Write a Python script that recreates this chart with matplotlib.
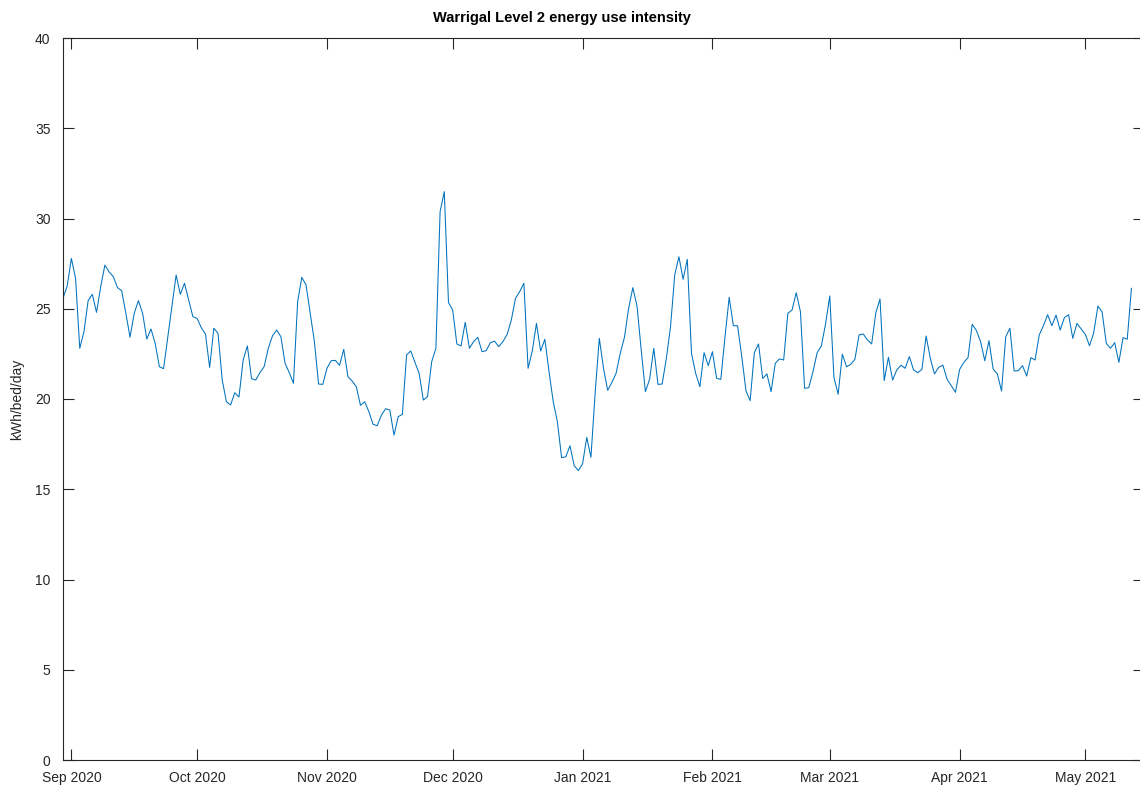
import matplotlib
matplotlib.use("Agg")
import matplotlib.pyplot as plt
import matplotlib.dates as mdates
import numpy as np
import pandas as pd

plt.rcParams['font.family'] = ['Liberation Sans', 'DejaVu Sans']

# Daily energy use intensity (kWh/bed/day), grouped by month
aug_2020 = [25.58, 26.26]
sep_2020 = [27.79, 26.68, 22.81, 23.73, 25.45, 25.80, 24.80, 26.22, 27.42, 27.04,
            26.78, 26.17, 26.00, 24.75, 23.42, 24.75, 25.45, 24.75, 23.32, 23.88,
            23.08, 21.79, 21.68, 23.40, 25.10, 26.87, 25.80, 26.41, 25.48, 24.56]
oct_2020 = [24.47, 23.95, 23.60, 21.75, 23.92, 23.64, 21.05, 19.85, 19.67, 20.35,
            20.11, 22.16, 22.94, 21.13, 21.05, 21.46, 21.79, 22.81, 23.50, 23.82,
            23.45, 21.98, 21.46, 20.87, 25.39, 26.74, 26.32, 24.75, 23.18, 20.83,
            20.81]
nov_2020 = [21.70, 22.12, 22.14, 21.87, 22.75, 21.24, 21.00, 20.68, 19.65, 19.85,
            19.30, 18.60, 18.52, 19.11, 19.46, 19.39, 18.00, 19.02, 19.15, 22.44,
            22.66, 22.03, 21.42, 19.94, 20.13, 22.07, 22.81, 30.38, 31.49, 25.34]
dec_2020 = [24.93, 23.05, 22.94, 24.25, 22.81, 23.18, 23.42, 22.62, 22.68, 23.12,
            23.20, 22.90, 23.18, 23.58, 24.38, 25.58, 25.95, 26.41, 21.70, 22.66,
            24.19, 22.66, 23.31, 21.52, 19.85, 18.74, 16.75, 16.80, 17.41, 16.31,
            16.03]
jan_2021 = [16.40, 17.87, 16.77, 20.31, 23.36, 21.70, 20.48, 20.92, 21.42, 22.53,
            23.42, 25.02, 26.17, 25.15, 22.72, 20.41, 21.09, 22.81, 20.81, 20.83,
            22.25, 24.01, 26.87, 27.88, 26.63, 27.74, 22.53, 21.42, 20.68, 22.57,
            21.85]
feb_2021 = [22.62, 21.14, 21.09, 23.45, 25.63, 24.06, 24.06, 22.35, 20.46, 19.91,
            22.57, 23.05, 21.14, 21.39, 20.41, 21.98, 22.22, 22.16, 24.75, 24.93,
            25.89, 24.84, 20.59, 20.63, 21.52, 22.57, 22.94, 24.16]
mar_2021 = [25.71, 21.20, 20.26, 22.48, 21.79, 21.92, 22.20, 23.55, 23.60, 23.27,
            23.05, 24.78, 25.54, 21.02, 22.31, 21.05, 21.61, 21.87, 21.70, 22.35,
            21.61, 21.46, 21.64, 23.49, 22.25, 21.39, 21.75, 21.88, 21.09, 20.74,
            20.37]
apr_2021 = [21.64, 22.03, 22.29, 24.14, 23.79, 23.18, 22.12, 23.23, 21.66, 21.39,
            20.44, 23.45, 23.92, 21.55, 21.57, 21.85, 21.27, 22.29, 22.16, 23.55,
            24.06, 24.67, 24.06, 24.65, 23.82, 24.51, 24.67, 23.36, 24.19, 23.88]
may_2021 = [23.58, 22.95, 23.67, 25.15, 24.82, 23.08, 22.81, 23.12, 22.03, 23.40,
            23.31, 26.13]

intensity = (aug_2020 + sep_2020 + oct_2020 + nov_2020 + dec_2020 + jan_2021
             + feb_2021 + mar_2021 + apr_2021 + may_2021)
days = pd.date_range("2020-08-30", periods=len(intensity), freq="D")

fig = plt.figure(figsize=(11.4, 7.9), dpi=100)
ax = fig.add_axes([63 / 1140, 30 / 790, 1081 / 1140, 722 / 790])

ax.plot(days, intensity, color="#0072BD", linewidth=0.75)

ax.set_xlim(pd.Timestamp("2020-08-30"), pd.Timestamp("2021-05-15"))
ax.set_ylim(0, 40)
ax.set_yticks(np.arange(0, 41, 5))
ax.xaxis.set_major_locator(mdates.MonthLocator())
ax.xaxis.set_major_formatter(mdates.DateFormatter("%b %Y"))

for side in ["left", "right", "top", "bottom"]:
    ax.spines[side].set_color("#262626")
    ax.spines[side].set_linewidth(0.8)
ax.tick_params(direction="in", length=8, width=0.8, color="#262626",
               labelcolor="#262626", labelsize=10,
               top=True, right=True)
ax.tick_params(axis="y", pad=9)
ax.tick_params(axis="x", pad=8)

ax.set_ylabel("kWh/bed/day", fontsize=10, color="#262626", labelpad=8)
fig.text(562 / 1140, 1 - 18 / 790, "Warrigal Level 2 energy use intensity",
         ha="center", va="center", fontsize=10.5, fontweight="bold",
         color="black")

fig.savefig("out.png", dpi=100)
